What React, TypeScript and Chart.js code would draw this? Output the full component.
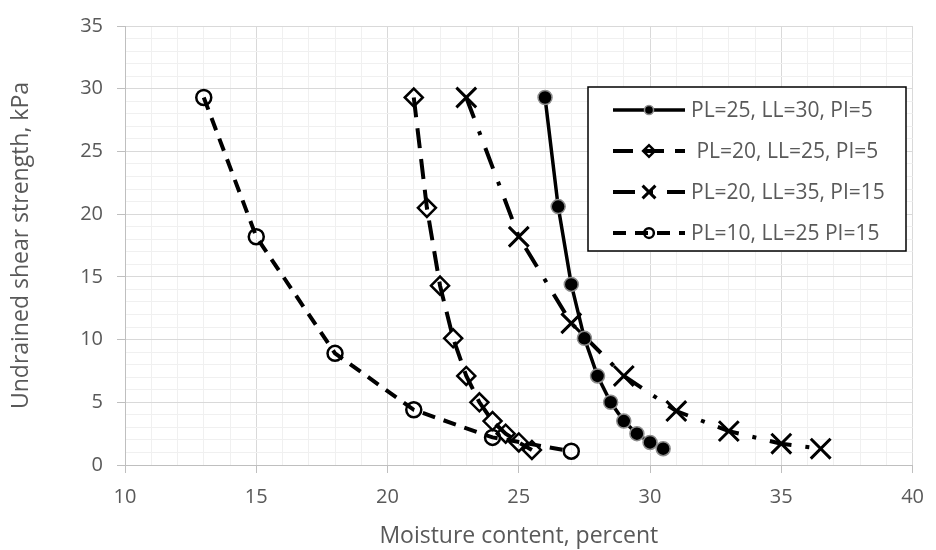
import React, { useEffect, useRef } from "react";
import { Chart, registerables } from "chart.js";
import { drawPoint } from "chart.js/helpers";

Chart.register(...registerables);

// ---- data ----
const labels = [
  "PL=25, LL=30, PI=5",
  " PL=20, LL=25, PI=5",
  "PL=20, LL=35, PI=15",
  "PL=10, LL=25 PI=15",
];
const s1x = [26, 26.5, 27, 27.5, 28, 28.5, 29, 29.5, 30, 30.5];
const s1y = [29.3, 20.6, 14.4, 10.1, 7.1, 5.0, 3.5, 2.5, 1.8, 1.3];
const s2x = [21, 21.5, 22, 22.5, 23, 23.5, 24, 24.5, 25, 25.5];
const s2y = [29.3, 20.5, 14.3, 10.1, 7.1, 5.0, 3.5, 2.5, 1.8, 1.2];
const s3x = [23, 25, 27, 29, 31, 33, 35, 36.5];
const s3y = [29.3, 18.2, 11.3, 7.1, 4.3, 2.7, 1.7, 1.3];
const s4x = [13, 15, 18, 21, 24, 27];
const s4y = [29.3, 18.2, 8.9, 4.4, 2.2, 1.1];
const xTitle = "Moisture content, percent";
const yTitle = "Undrained shear strength, kPa";

const zip = (xs: number[], ys: number[]) => xs.map((x, i) => ({ x, y: ys[i] }));

const TEXT = "#595959";
const FONT = "'Open Sans'";

const boxLegend = {
  id: "boxLegend",
  afterDraw(chart: any) {
    const ctx = chart.ctx as CanvasRenderingContext2D;
    const x0 = 588, y0 = 87, w = 318, h = 164;
    ctx.save();
    ctx.fillStyle = "#ffffff";
    ctx.fillRect(x0, y0, w, h);
    ctx.strokeStyle = "#000000";
    ctx.lineWidth = 1.5;
    ctx.strokeRect(x0, y0, w, h);
    chart.data.datasets.forEach((ds: any, i: number) => {
      const cy = y0 + 23 + i * 41;
      ctx.save();
      ctx.strokeStyle = ds.borderColor;
      ctx.lineWidth = ds.borderWidth;
      ctx.setLineDash(ds.borderDash || []);
      ctx.beginPath();
      ctx.moveTo(613, cy);
      ctx.lineTo(685, cy);
      ctx.stroke();
      ctx.setLineDash([]);
      ctx.fillStyle = ds.pointBackgroundColor;
      ctx.strokeStyle = ds.pointBorderColor;
      ctx.lineWidth = ds.pointBorderWidth;
      drawPoint(ctx, {
        pointStyle: ds.pointStyle,
        radius: ds.pointRadius * 0.65,
        borderWidth: ds.pointBorderWidth,
        rotation: 0,
      } as any, 649, cy);
      ctx.restore();
      ctx.fillStyle = TEXT;
      ctx.font = `21px ${FONT}`;
      ctx.textBaseline = "middle";
      ctx.textAlign = "left";
      ctx.fillText(ds.label, 691, cy + 1);
    });
    ctx.restore();
  },
};

export default function App() {
  const ref = useRef<HTMLCanvasElement | null>(null);
  useEffect(() => {
    if (!ref.current) return;
    const major = (v: number) => Math.abs(v % 5) < 1e-9;
    const gridColor = (c: any) => (c.tick && major(c.tick.value) ? "#d9d9d9" : "#f0f0f0");
    const tickColor = (c: any) => (c.tick && major(c.tick.value) ? "#bfbfbf" : "rgba(0,0,0,0)");
    const chart = new Chart(ref.current, {
      type: "scatter",
      data: {
        datasets: [
          {
            label: labels[0],
            data: zip(s1x, s1y),
            showLine: true,
            borderColor: "#000000",
            borderWidth: 3.5,
            borderDash: [],
            pointStyle: "circle",
            pointRadius: 7,
            pointBackgroundColor: "#000000",
            pointBorderColor: "#8c8c8c",
            pointBorderWidth: 1.5,
          },
          {
            label: labels[1],
            data: zip(s2x, s2y),
            showLine: true,
            borderColor: "#000000",
            borderWidth: 4,
            borderDash: [20, 11],
            pointStyle: "rectRot",
            pointRadius: 9,
            pointBackgroundColor: "rgba(0,0,0,0)",
            pointBorderColor: "#000000",
            pointBorderWidth: 2.5,
          },
          {
            label: labels[2],
            data: zip(s3x, s3y),
            showLine: true,
            borderColor: "#000000",
            borderWidth: 4,
            borderDash: [22, 14, 4, 14],
            pointStyle: "crossRot",
            pointRadius: 14,
            pointBackgroundColor: "rgba(0,0,0,0)",
            pointBorderColor: "#000000",
            pointBorderWidth: 3,
          },
          {
            label: labels[3],
            data: zip(s4x, s4y),
            showLine: true,
            borderColor: "#000000",
            borderWidth: 4,
            borderDash: [13, 9],
            pointStyle: "circle",
            pointRadius: 7.5,
            pointBackgroundColor: "rgba(0,0,0,0)",
            pointBorderColor: "#000000",
            pointBorderWidth: 2.5,
          },
        ],
      },
      options: {
        animation: false,
        responsive: true,
        maintainAspectRatio: false,
        layout: { padding: { top: 20, right: 15, left: 0, bottom: 0 } },
        plugins: { legend: { display: false }, tooltip: { enabled: false } },
        scales: {
          x: {
            type: "linear",
            min: 10,
            max: 40,
            afterFit: (s: any) => { s.height = 85; },
            ticks: {
              stepSize: 1,
              autoSkip: false,
              maxRotation: 0,
              padding: 12,
              color: TEXT,
              font: { family: FONT, size: 20 },
              callback: (v: any) => (major(Number(v)) ? String(v) : ""),
            },
            grid: { color: gridColor, tickColor, tickLength: 8, lineWidth: 1 },
            border: { color: "#bfbfbf", width: 1 },
            title: {
              display: true,
              text: xTitle,
              color: TEXT,
              font: { family: FONT, size: 23 },
              padding: { top: 0, bottom: 0 },
            },
          },
          y: {
            type: "linear",
            min: 0,
            max: 35,
            afterFit: (s: any) => { s.width = 125; },
            ticks: {
              stepSize: 1,
              autoSkip: false,
              padding: 14,
              color: TEXT,
              font: { family: FONT, size: 20 },
              callback: (v: any) => (major(Number(v)) ? String(v) : ""),
            },
            grid: { color: gridColor, tickColor, tickLength: 8, lineWidth: 1 },
            border: { color: "#bfbfbf", width: 1 },
            title: {
              display: true,
              text: yTitle,
              color: TEXT,
              font: { family: FONT, size: 23 },
              padding: { top: 8, bottom: 0 },
            },
          },
        },
      },
      plugins: [boxLegend],
    });
    return () => chart.destroy();
  }, []);
  return (
    <div style={{ position: "fixed", left: 0, top: 0, width: 936, height: 550, background: "#fff" }}>
      <canvas ref={ref} />
    </div>
  );
}
